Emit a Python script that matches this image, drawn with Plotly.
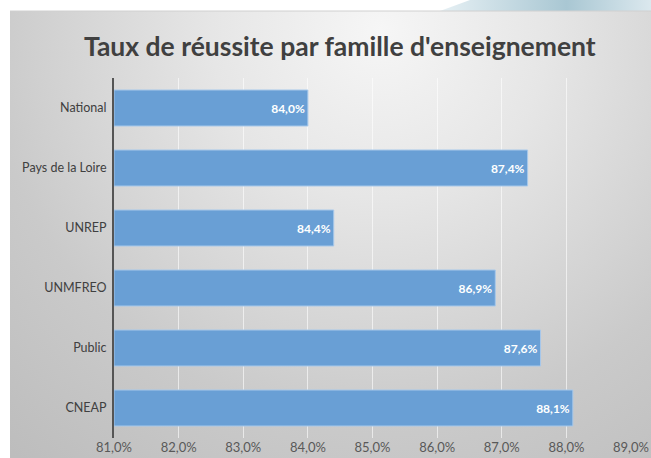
import base64
import plotly.graph_objects as go

categories = ["National", "Pays de la Loire", "UNREP", "UNMFREO", "Public", "CNEAP"]
values = [84.0, 87.4, 84.4, 86.9, 87.6, 88.1]
labels = ["84,0%", "87,4%", "84,4%", "86,9%", "87,6%", "88,1%"]
tick_vals = [81, 82, 83, 84, 85, 86, 87, 88, 89]
tick_text = ["81,0%", "82,0%", "83,0%", "84,0%", "85,0%", "86,0%", "87,0%", "88,0%", "89,0%"]
axis_min = 81

W, H = 651, 458
L, R, T, B = 114, 20, 78, 20
svg = f'''<svg xmlns="http://www.w3.org/2000/svg" width="{W}" height="{H}" viewBox="0 0 {W} {H}">
<defs>
<radialGradient id="g" cx="380" cy="30" r="560" gradientUnits="userSpaceOnUse">
<stop offset="0" stop-color="#f6f6f6"/>
<stop offset="0.3" stop-color="#e6e6e6"/>
<stop offset="0.7" stop-color="#cacaca"/>
<stop offset="1" stop-color="#bdbdbd"/>
</radialGradient>
<linearGradient id="b" x1="0" y1="0" x2="1" y2="0">
<stop offset="0" stop-color="#e6f0f4"/>
<stop offset="0.6" stop-color="#a9c7d3"/>
<stop offset="1" stop-color="#dbe8ee"/>
</linearGradient>
</defs>
<rect x="0" y="0" width="{W}" height="{H}" fill="#ffffff"/>
<polygon points="440,11 470,0 651,0 651,11" fill="url(#b)"/>
<rect x="10" y="11" width="{W-10}" height="{H-11}" fill="url(#g)"/>
<line x1="10" y1="11" x2="{W}" y2="11" stroke="#d0d0d0" stroke-width="1"/>
</svg>'''
src = "data:image/svg+xml;base64," + base64.b64encode(svg.encode()).decode()

fig = go.Figure(go.Bar(
    y=categories,
    x=[v - axis_min for v in values],
    base=axis_min,
    orientation="h",
    marker=dict(color="#699fd5", line=dict(color="#a7c8ea", width=1)),
    text=labels,
    textposition="inside",
    insidetextanchor="end",
    textfont=dict(color="white", size=12, family="Lato"),
    texttemplate="<b>%{text}</b>",
    cliponaxis=False,
))

pw, ph = W - L - R, H - T - B
fig.update_layout(
    width=W, height=H,
    margin=dict(l=L, r=R, t=T, b=B, autoexpand=False),
    paper_bgcolor="white",
    plot_bgcolor="rgba(0,0,0,0)",
    bargap=0.4,
    showlegend=False,
    title=dict(text="<b>Taux de réussite par famille d'enseignement</b>",
               x=0.522, xanchor="center", y=0.897, yanchor="middle",
               font=dict(family="Lato", size=26.5, color="#404040")),
    images=[dict(source=src, xref="paper", yref="paper",
                 x=-L / pw, sizex=W / pw, y=1 + T / ph, sizey=H / ph,
                 sizing="stretch", layer="below",
                 xanchor="left", yanchor="top")],
    font=dict(family="Lato", size=13, color="#595959"),
)

fig.update_xaxes(range=[81, 89], tickvals=tick_vals, ticktext=tick_text,
                 showgrid=True, gridcolor="rgba(255,255,255,0.6)", gridwidth=1,
                 zeroline=False, showline=False, ticks="", automargin=False,
                 tickfont=dict(size=13, color="#595959"))
fig.update_yaxes(autorange="reversed", showline=True, linecolor="#555555", linewidth=2,
                 layer="below traces", ticks="", showgrid=False, automargin=False,
                 tickfont=dict(size=12.5, color="#404040"), ticklabelstandoff=3)

fig.write_html("out.html", config={"displayModeBar": False},
               post_script="document.body.style.margin='0';")
